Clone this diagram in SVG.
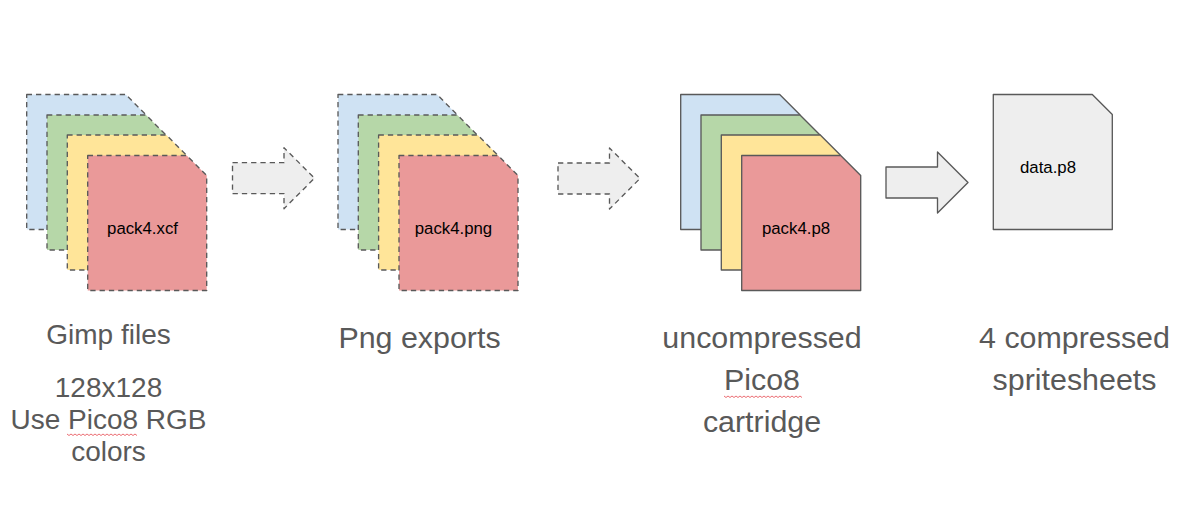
<svg xmlns="http://www.w3.org/2000/svg" width="1188" height="516" viewBox="0 0 1188 516">
<style>
text{font-family:"Liberation Sans",Arial,sans-serif;text-anchor:middle}
.lab{font-size:28px;fill:#595959}
.big{font-size:30.4px;fill:#595959}
.in{font-size:16.8px;fill:#000}
.s{stroke:#595959;stroke-width:1.33;stroke-linejoin:round}
.d{stroke-dasharray:5.3 4}
.b{fill:#cfe2f3}.g{fill:#b6d7a8}.y{fill:#ffe599}.r{fill:#ea9999}.e{fill:#eeeeee}
.w{fill:none;stroke:#e8535a;stroke-width:1;opacity:.85}
</style>
<defs>
<path id="doc" d="M0 0H99L119 20V135H0Z"/>
<path id="arr" d="M0 15H51.500V0L82 30.500L51.500 61V46H0Z"/>
</defs>
<rect width="1188" height="516" fill="#fff"/>
<g id="stack-xcf">
<use href="#doc" x="26.700" y="94.500" class="s d b"/>
<use href="#doc" x="47" y="115" class="s d g"/>
<use href="#doc" x="67.300" y="135" class="s d y"/>
<use href="#doc" x="87.700" y="155.500" class="s d r"/>
<text x="142.500" y="234" class="in">pack4.xcf</text>
</g>
<g id="stack-png">
<use href="#doc" x="338" y="94.500" class="s d b"/>
<use href="#doc" x="358.300" y="115" class="s d g"/>
<use href="#doc" x="378.600" y="135" class="s d y"/>
<use href="#doc" x="399" y="155.500" class="s d r"/>
<text x="453.500" y="234" class="in">pack4.png</text>
</g>
<g id="stack-p8">
<use href="#doc" x="680.700" y="94.500" class="s b"/>
<use href="#doc" x="701" y="115" class="s g"/>
<use href="#doc" x="721.300" y="135" class="s y"/>
<use href="#doc" x="741.700" y="155.500" class="s r"/>
<text x="796" y="234" class="in">pack4.p8</text>
</g>
<g id="data-p8">
<use href="#doc" x="993.300" y="94.500" class="s e"/>
<text x="1048" y="173" class="in">data.p8</text>
</g>
<g id="connectors">
<use href="#arr" x="232.500" y="147.700" class="s d e"/>
<use href="#arr" x="558" y="148" class="s d e"/>
<use href="#arr" x="886" y="152" class="s e"/>
</g>
<g id="label-gimp">
<text x="108.500" y="344" class="lab">Gimp files</text>
<text x="108.500" y="397" class="lab">128x128</text>
<text x="108.500" y="429" class="lab">Use Pico8 RGB</text>
<text x="108.500" y="461" class="lab">colors</text>
<path class="w" d="M67 434l2 1.500 2-1.500 2 1.500 2-1.500 2 1.500 2-1.500 2 1.500 2-1.500 2 1.500 2-1.500 2 1.500 2-1.500 2 1.500 2-1.500 2 1.500 2-1.500 2 1.500 2-1.500 2 1.500 2-1.500 2 1.500 2-1.500 2 1.500 2-1.500 2 1.500 2-1.500 2 1.500 2-1.500 2 1.500 2-1.500 2 1.500 2-1.500 2 1.500 2-1.500 2 1.500"/>
</g>
<g id="label-png">
<text x="419.500" y="348" class="big">Png exports</text>
</g>
<g id="label-p8">
<text x="762" y="348" class="big">uncompressed</text>
<text x="762" y="390" class="big">Pico8</text>
<text x="762" y="432" class="big">cartridge</text>
<path class="w" d="M724 396l2 1.500 2-1.500 2 1.500 2-1.500 2 1.500 2-1.500 2 1.500 2-1.500 2 1.500 2-1.500 2 1.500 2-1.500 2 1.500 2-1.500 2 1.500 2-1.500 2 1.500 2-1.500 2 1.500 2-1.500 2 1.500 2-1.500 2 1.500 2-1.500 2 1.500 2-1.500 2 1.500 2-1.500 2 1.500 2-1.500 2 1.500 2-1.500 2 1.500 2-1.500 2 1.500 2-1.500 2 1.500 2-1.500 2 1.500"/>
</g>
<g id="label-data">
<text x="1074.500" y="348" class="big">4 compressed</text>
<text x="1074.500" y="390" class="big">spritesheets</text>
</g>
</svg>
